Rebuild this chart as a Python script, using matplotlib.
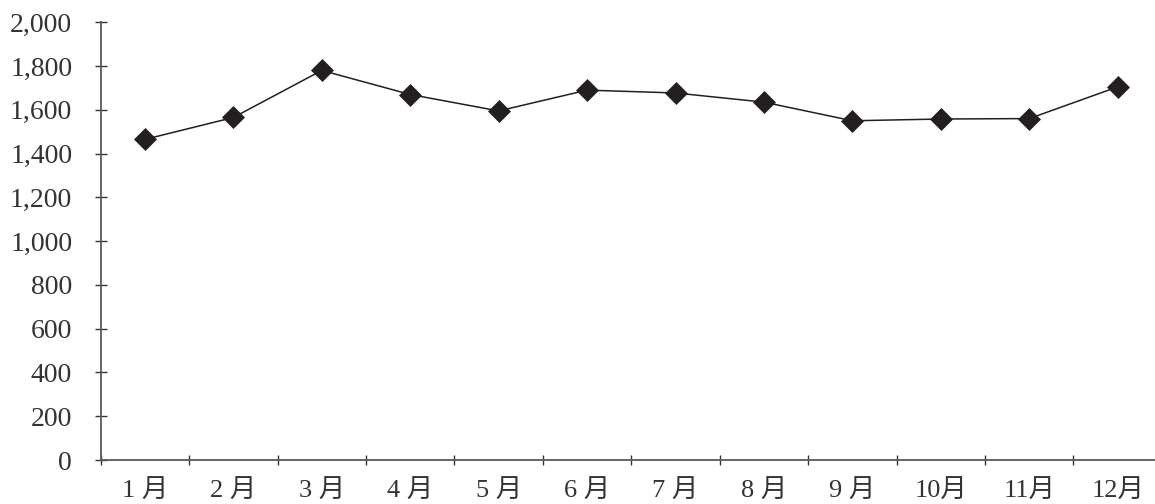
import matplotlib.pyplot as plt
from matplotlib.ticker import FuncFormatter, FixedLocator

plt.rcParams['font.family'] = ['Liberation Serif', 'Noto Sans CJK SC', 'DejaVu Sans']

months = ["1 月", "2 月", "3 月", "4 月", "5 月", "6 月",
          "7 月", "8 月", "9 月", "10月", "11月", "12月"]
values = [1465, 1565, 1780, 1670, 1595, 1690, 1677, 1635, 1550, 1558, 1560, 1705]
y_ticks = [0, 200, 400, 600, 800, 1000, 1200, 1400, 1600, 1800, 2000]

fig = plt.figure(figsize=(11.55, 5.04), dpi=100)
ax = fig.add_axes([0.0872, 0.0873, 0.9188, 0.8685])

x = list(range(len(months)))
ax.plot(x, values, color="#231f20", linewidth=1.1, marker="D",
        markersize=11.5, markerfacecolor="#231f20", markeredgecolor="#231f20",
        markeredgewidth=0.5, clip_on=False)

ax.set_xlim(-0.5, len(months) - 0.5)
ax.set_ylim(0, 2000)

for side in ["top", "right"]:
    ax.spines[side].set_visible(False)
for side in ["left", "bottom"]:
    ax.spines[side].set_color("#595959")
    ax.spines[side].set_linewidth(1.3)

ax.set_xticks(x)
ax.set_xticklabels(months, fontsize=19, color="#333333")
ax.tick_params(axis="x", which="major", length=0, pad=14)
ax.xaxis.set_minor_locator(FixedLocator([i - 0.5 for i in range(len(months) + 1)]))
ax.tick_params(axis="x", which="minor", direction="inout", length=7,
               width=1.0, color="#333333")

ax.set_yticks(y_ticks)
ax.yaxis.set_major_formatter(FuncFormatter(lambda v, p: "{:,}".format(int(v))))
ax.tick_params(axis="y", direction="inout", length=9, width=1.0,
               color="#333333", labelsize=20, labelcolor="#333333", pad=16)

fig.savefig("out.png", dpi=100)
